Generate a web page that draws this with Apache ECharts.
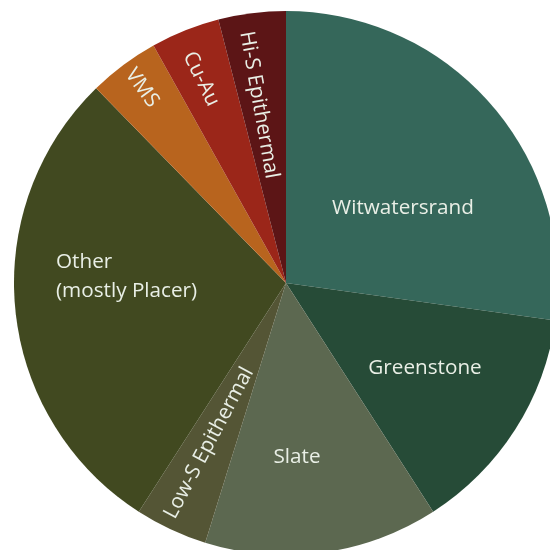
<!DOCTYPE html>
<html><head><meta charset="utf-8">
<script src="https://cdn.jsdelivr.net/npm/echarts@6/dist/echarts.min.js"></script>
<style>html,body{margin:0;padding:0;background:#fff}#c{width:550px;height:550px}</style>
</head><body><div id="c"></div>
<script>
var categories = ['Witwatersrand','Greenstone','Slate','Low-S Epithermal','Other\n(mostly Placer)','VMS','Cu-Au','Hi-S Epithermal'];
var values = [27.2, 13.7, 13.9, 4.3, 28.6, 4.2, 4.1, 4.0];
var colors = ['#35675a','#264b37','#5c6850','#545535','#414920','#b8641e','#9b2619','#5c1516'];
// label placement (text centre x, y, rotation, alignment)
var labelX = [403, 425, 297, 209, 56, 142, 201, 259];
var labelY = [208, 368, 457, 443, 277, 88, 79, 105];
var labelRot = [0, 0, 0, 62, 0, -54, -64, -80];
var labelAlign = ['center','center','center','center','left','center','center','center'];

var chart = echarts.init(document.getElementById('c'));
chart.setOption({
  animation: false,
  series: [{
    type: 'pie',
    center: [286, 283],
    radius: 272,
    startAngle: 90,
    clockwise: true,
    avoidLabelOverlap: false,
    label: {
      show: true, position: 'inside', color: '#e9efe6',
      fontFamily: 'Open Sans', fontSize: 20.7, lineHeight: 29,
      formatter: function(p){ return p.name; }
    },
    labelLine: {show: false},
    itemStyle: {borderWidth: 0},
    emphasis: {disabled: true},
    labelLayout: function(p){
      var i = p.dataIndex;
      return {x: labelX[i], y: labelY[i], rotate: labelRot[i], align: labelAlign[i], verticalAlign: 'middle'};
    },
    data: categories.map(function(c, i){
      return {name: c, value: values[i], itemStyle: {color: colors[i]}};
    })
  }]
});
</script></body></html>
